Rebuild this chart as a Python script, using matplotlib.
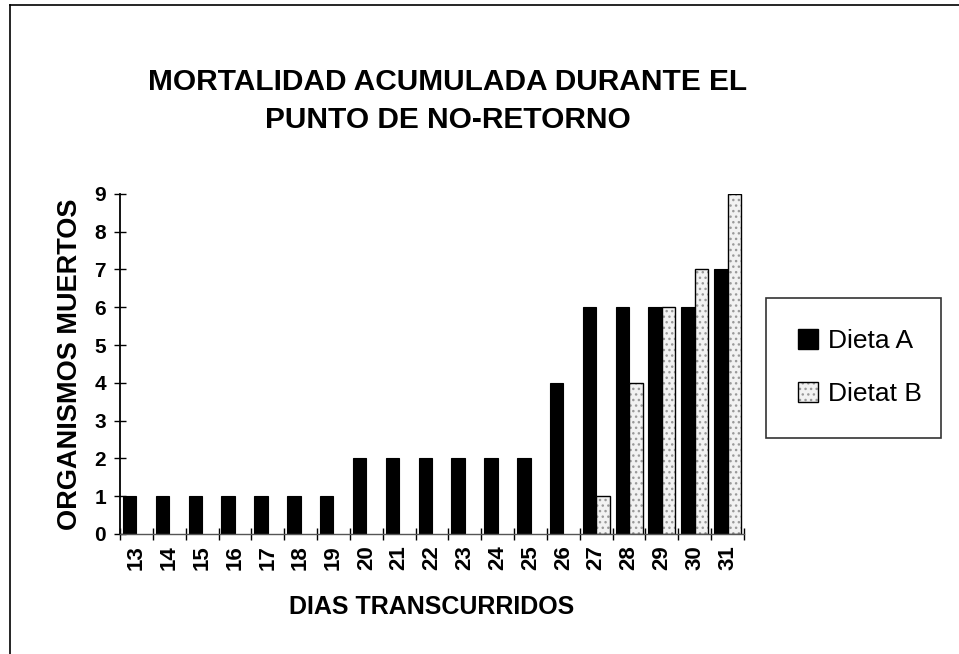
import matplotlib.pyplot as plt
import numpy as np
from matplotlib.lines import Line2D
from matplotlib.legend_handler import HandlerTuple

plt.rcParams['font.family'] = ['Liberation Sans', 'DejaVu Sans']

dias = [13, 14, 15, 16, 17, 18, 19, 20, 21, 22, 23, 24, 25, 26, 27, 28, 29, 30, 31]
dieta_a = [1, 1, 1, 1, 1, 1, 1, 2, 2, 2, 2, 2, 2, 4, 6, 6, 6, 6, 7]
dieta_b = [0, 0, 0, 0, 0, 0, 0, 0, 0, 0, 0, 0, 0, 0, 1, 4, 6, 7, 9]

fig = plt.figure(figsize=(9.59, 6.54), dpi=100)
ax = fig.add_axes([0.1251, 0.1835, 0.6507, 0.52])

x = np.arange(len(dias))
w = 0.41
ax.bar(x - w / 2, dieta_a, width=w, color='black', edgecolor='black',
       linewidth=0.8)

# light stippled fill (gray dots) + black outline, zero bars skipped
b_vals = np.array(dieta_b, dtype=float)
mask = b_vals > 0
ax.bar(x[mask] + w / 2, b_vals[mask], width=w, color='#f2f2f2',
       edgecolor='#9a9a9a', linewidth=0, hatch='...')
ax.bar(x[mask] + w / 2, b_vals[mask], width=w, fill=False,
       edgecolor='black', linewidth=1.0)

# legend proxies
proxy_a = plt.Rectangle((0, 0), 1, 1, facecolor='black', edgecolor='black')
proxy_b_fill = plt.Rectangle((0, 0), 1, 1, facecolor='#f2f2f2',
                             edgecolor='#9a9a9a', hatch='...', linewidth=0)
proxy_b_edge = plt.Rectangle((0, 0), 1, 1, fill=False, edgecolor='black',
                             linewidth=1.0)

ax.set_xlim(-0.5, len(dias) - 0.5)
ax.set_ylim(0, 9)
ax.set_yticks(range(10))
ax.set_xticks(x)
ax.set_xticklabels([str(d) for d in dias], rotation=90, fontweight='bold',
                   fontsize=16)
ax.set_xticks(np.arange(-0.5, len(dias)), minor=True)
ax.tick_params(axis='x', which='major', length=0, pad=8)
ax.tick_params(axis='x', which='minor', length=8, direction='inout', width=1)
ax.tick_params(axis='y', length=8, direction='inout', width=1, pad=6,
               labelsize=15)
for lbl in ax.get_yticklabels():
    lbl.set_fontweight('bold')

for s in ['top', 'right']:
    ax.spines[s].set_visible(False)
ax.spines['left'].set_linewidth(1.3)
ax.spines['bottom'].set_linewidth(1.0)
ax.spines['bottom'].set_color('#555555')

ax.set_ylabel('ORGANISMOS MUERTOS', fontsize=19.5, fontweight='bold',
              labelpad=8)
ax.set_xlabel('DIAS TRANSCURRIDOS', fontsize=18, fontweight='bold',
              labelpad=18)

fig.text(0.467, 0.846, 'MORTALIDAD ACUMULADA DURANTE EL\nPUNTO DE NO-RETORNO',
         ha='center', va='center', fontsize=21.5, fontweight='bold',
         linespacing=1.45)

leg = ax.legend([proxy_a, (proxy_b_fill, proxy_b_edge)], ['Dieta A', 'Dietat B'],
                handler_map={tuple: HandlerTuple(ndivide=1, pad=0)},
                loc='upper left', bbox_to_anchor=(0.799, 0.339, 0.1825, 0.206),
                bbox_transform=fig.transFigure, mode='expand', fontsize=19,
                frameon=True, fancybox=False, edgecolor='black',
                handlelength=0.75, handleheight=0.75, borderpad=1.2,
                labelspacing=1.1, handletextpad=0.4, borderaxespad=0)
leg.get_frame().set_linewidth(1.2)

# outer frame of the scanned page (top and left edges only)
fig.add_artist(Line2D([0.0104, 1.0], [0.992, 0.992], color='black', lw=1.2,
                      transform=fig.transFigure))
fig.add_artist(Line2D([0.0104, 0.0104], [0.0, 0.992], color='black', lw=1.2,
                      transform=fig.transFigure))

fig.savefig('out.png', dpi=100)
